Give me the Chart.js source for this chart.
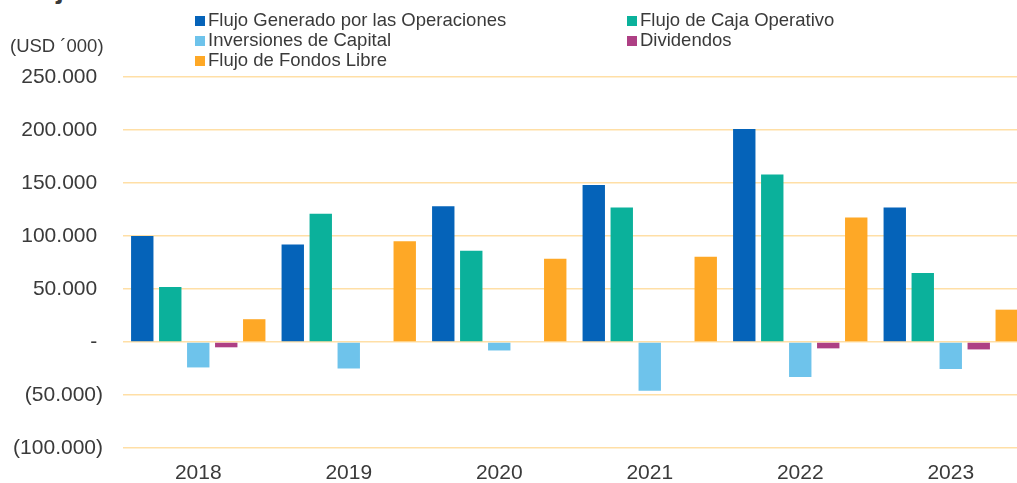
<!DOCTYPE html>
<html>
<head>
<meta charset="utf-8">
<script src="https://cdn.jsdelivr.net/npm/chart.js@4"></script>
<style>
  body { margin: 0; overflow: hidden; background: #fff; font-family: "Liberation Sans", Arial, sans-serif; color: #3a3a3a; }
  #wrap { position: absolute; left: 0; top: 0; width: 1026px; height: 483px; }
  #title { position: absolute; left: 14px; top: -25px; font-size: 28px; line-height: 28px; font-weight: bold; white-space: nowrap; }
  #unit { position: absolute; left: 10px; top: 36px; font-size: 18.5px; line-height: 20px; white-space: nowrap; }
  #legend { position: absolute; left: 195px; top: 9.5px; display: grid; grid-template-columns: 432px auto; font-size: 18.5px; line-height: 20px; }
  #legend span.box { display: inline-block; width: 10px; height: 10px; margin-right: 3px; }
</style>
</head>
<body>
<div id="title">Flujo de Fondos</div>
<div id="wrap"><canvas id="chart"></canvas></div>
<div id="unit">(USD ´000)</div>
<div id="legend"></div>
<script>
// valores (USD miles)
var years = ["2018", "2019", "2020", "2021", "2022", "2023"];
var flujoGenerado = [100000, 92000, 128000, 148000, 201000, 127000];
var flujoCajaOperativo = [52000, 121000, 86000, 127000, 158000, 65000];
var inversiones = [-24000, -25000, -8000, -46000, -33000, -25500];
var dividendos = [-5000, 0, 0, 0, -6000, -7000];
var flujoFondosLibre = [21500, 95000, 78500, 80500, 117500, 30500];

var seriesNames = ["Flujo Generado por las Operaciones", "Flujo de Caja Operativo", "Inversiones de Capital", "Dividendos", "Flujo de Fondos Libre"];
var seriesData = [flujoGenerado, flujoCajaOperativo, inversiones, dividendos, flujoFondosLibre];
var colors = ["#0563B9", "#0BB19B", "#6EC3EB", "#AE3F84", "#FEA826"];

var yTicks = { min: -100000, max: 250000, step: 50000 };

function fmt(v) {
  if (v === 0) return "- ";
  var s = Math.abs(v).toLocaleString("de-DE");
  return v < 0 ? "(" + s + ")" : s + " ";
}

var datasets = seriesNames.map(function(name, i) {
  return {
    label: name,
    data: seriesData[i],
    backgroundColor: colors[i],
    categoryPercentage: 0.93,
    barPercentage: 0.8
  };
});

// leyenda en dos columnas
var legend = document.getElementById("legend");
seriesNames.forEach(function(name, i) {
  var item = document.createElement("div");
  item.innerHTML = '<span class="box" style="background:' + colors[i] + '"></span>' + name;
  legend.appendChild(item);
});

var ctx = document.getElementById("chart");
new Chart(ctx, {
  type: "bar",
  data: { labels: years, datasets: datasets },
  options: {
    responsive: true,
    maintainAspectRatio: false,
    animation: false,
    layout: { padding: { top: 77, left: 0, right: 0, bottom: 0 } },
    plugins: {
      legend: { display: false },
      tooltip: { enabled: false }
    },
    scales: {
      x: {
        afterFit: function(scale) { scale.height = 35; },
        grid: { display: false },
        border: { display: false },
        ticks: {
          color: "#3a3a3a",
          font: { family: "'Liberation Sans', Arial, sans-serif", size: 21 },
          padding: 5,
          maxRotation: 0
        }
      },
      y: {
        min: yTicks.min,
        max: yTicks.max,
        afterFit: function(scale) { scale.width = 123; },
        grid: { color: "#FFDFA6", lineWidth: 1.5, tickLength: 0 },
        border: { display: false },
        ticks: {
          stepSize: yTicks.step,
          color: "#3a3a3a",
          font: { family: "'Liberation Sans', Arial, sans-serif", size: 21 },
          padding: 20,
          callback: function(v) { return fmt(v); }
        }
      }
    }
  }
});
</script>
</body>
</html>
